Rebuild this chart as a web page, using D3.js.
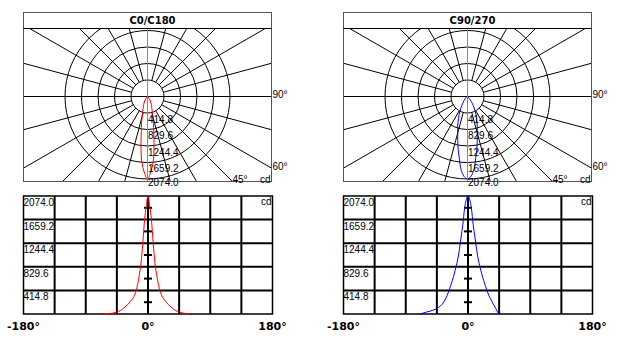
<!DOCTYPE html>
<html><head><meta charset="utf-8">
<script src="https://cdn.jsdelivr.net/npm/d3@7"></script>
<style>body{margin:0;background:#fff}svg{display:block}</style>
</head><body><svg id="c" width="639" height="341"></svg>
<script>
// ---- data ----
const titles = ["C0/C180", "C90/270"];
const seriesColors = ["#ff0000", "#0000ff"];
const redAngles  = [-65,-60,-55,-50,-45,-40,-35,-30,-25,-20,-17.5,-15,-12.5,-10,-7.5,-5,-2.5,0,2.5,5,7.5,10,12.5,15,17.5,20,25,30,35,40,45,50,55,60];
const redValues  = [0,3,8,18,35,60,105,160,225,320,400,520,690,900,1250,1650,1900,2074,1900,1650,1250,900,690,520,400,320,225,160,105,60,35,18,5,0];
const blueAngles = [-70,-65,-60,-55,-50,-45,-40,-35,-30,-25,-20,-17.5,-15,-12.5,-10,-7.5,-5,-2.5,0,2.5,5,7.5,10,12.5,15,17.5,20,25,30,35,40,42.5,45];
const blueValues = [2,15,35,50,70,95,140,210,330,500,700,820,950,1130,1350,1570,1850,2010,2074,2010,1850,1570,1350,1130,950,820,700,500,330,210,100,40,0];
const ringValues = [414.8, 829.6, 1244.4, 1659.2, 2074.0];
const ringLabels = ["414.8", "829.6", "1244.4", "1659.2", "2074.0"];
const xTicks = [-180, 0, 180];
const xTickLabels = ["-180°", "0°", "180°"];
const xGrid = [-135, -90, -45, 0, 45, 90, 135];
const maxCd = 2074.0;
const unitLabel = "cd";

const series = [
  {angles: redAngles, values: redValues},
  {angles: blueAngles, values: blueValues}
];

const svg = d3.select("#c");
const offsets = [0, 320];
const labelFont = "'Liberation Sans', Arial, sans-serif";
const boldFont = "'DejaVu Sans', Verdana, sans-serif";

offsets.forEach((off, i) => {
  const g = svg.append("g").attr("transform", `translate(${off},0)`);
  const pts = series[i].angles.map((a, k) => ({a, v: series[i].values[k]}));

  // ---------- polar panel ----------
  const bx0 = 23.5, bx1 = 271.5, by0 = 12.5, byT = 28.5, by1 = 181.5;
  const cx = 147.5, cy = 96.5;
  const rScale = d3.scaleLinear().domain([0, maxCd]).range([0, 82.5]);
  const aScale = d3.scaleLinear().domain([-180, 180]).range([2 * Math.PI, 0]);
  const clipId = "pclip" + i;
  g.append("clipPath").attr("id", clipId).append("rect")
    .attr("x", bx0).attr("y", byT).attr("width", bx1 - bx0).attr("height", by1 - byT);
  const pg = g.append("g").attr("clip-path", `url(#${clipId})`);
  const pc = pg.append("g").attr("transform", `translate(${cx},${cy})`);
  // rings
  pc.selectAll("circle.ring").data(ringValues).join("circle")
    .attr("r", d => rScale(d)).attr("fill", "none").attr("stroke", "#000").attr("stroke-width", 1);
  // radial lines every 15 deg
  const radials = d3.range(0, 360, 15).filter(d => d % 90 !== 0);
  pc.selectAll("line.rad").data(radials).join("line")
    .attr("x1", d => rScale(ringValues[0]) * Math.sin(aScale(d)))
    .attr("y1", d => -rScale(ringValues[0]) * Math.cos(aScale(d)))
    .attr("x2", d => 400 * Math.sin(aScale(d)))
    .attr("y2", d => -400 * Math.cos(aScale(d)))
    .attr("stroke", "#000").attr("stroke-width", 1);
  // horizontal 90 line
  pg.append("line").attr("x1", bx0).attr("x2", bx1).attr("y1", cy).attr("y2", cy)
    .attr("stroke", "#000").attr("stroke-width", 1);
  // vertical gray line
  pg.append("line").attr("x1", cx).attr("x2", cx).attr("y1", byT).attr("y2", by1)
    .attr("stroke", "#8a8a8a").attr("stroke-width", 1);
  // curve
  const radial = d3.lineRadial().angle(d => aScale(d.a)).radius(d => rScale(d.v)).curve(d3.curveCatmullRom);
  pc.append("path").datum(pts).attr("d", radial)
    .attr("fill", "none").attr("stroke", seriesColors[i]).attr("stroke-width", 1);
  // box
  g.append("rect").attr("x", bx0).attr("y", by0).attr("width", bx1 - bx0).attr("height", by1 - by0)
    .attr("fill", "none").attr("stroke", "#555").attr("stroke-width", 1);
  g.append("line").attr("x1", bx0).attr("x2", bx1).attr("y1", byT).attr("y2", byT)
    .attr("stroke", "#000").attr("stroke-width", 1);
  g.append("text").attr("x", cx + 5).attr("y", 24).attr("text-anchor", "middle")
    .attr("font-family", boldFont).attr("font-weight", "bold").attr("font-size", 10).text(titles[i]);
  // ring labels
  g.selectAll("text.rl").data(ringValues).join("text")
    .attr("x", cx + 0.5)
    .attr("y", d => Math.min(cy + rScale(d) + 9.5, 185.5))
    .attr("font-family", labelFont).attr("font-size", 10).text((d, k) => ringLabels[k]);
  // gamma labels
  g.append("text").attr("x", bx1 + 1).attr("y", 98).attr("font-family", labelFont).attr("font-size", 10).text("90°");
  g.append("text").attr("x", bx1 + 1).attr("y", 170).attr("font-family", labelFont).attr("font-size", 10).text("60°");
  g.append("text").attr("x", cx + (by1 - cy) * Math.tan(Math.PI / 4)).attr("y", 183)
    .attr("font-family", labelFont).attr("font-size", 10).text("45°");
  g.append("text").attr("x", bx1 - 1).attr("y", 183).attr("text-anchor", "end")
    .attr("font-family", labelFont).attr("font-size", 10).text(unitLabel);

  // ---------- cartesian panel ----------
  const lx0 = 23.5, lx1 = 272.5, ly0 = 196, ly1 = 314;
  const x = d3.scaleLinear().domain([-180, 180]).range([lx0, lx1]);
  const y = d3.scaleLinear().domain([0, maxCd]).range([ly1, ly0]);
  const cg = g.append("g");
  cg.selectAll("line.vg").data(xGrid).join("line")
    .attr("x1", d => x(d)).attr("x2", d => x(d)).attr("y1", ly0).attr("y2", ly1)
    .attr("stroke", "#000").attr("stroke-width", 2);
  cg.selectAll("line.hg").data(ringValues.slice(0, 4)).join("line")
    .attr("x1", lx0).attr("x2", lx1).attr("y1", d => y(d)).attr("y2", d => y(d))
    .attr("stroke", "#000").attr("stroke-width", 2);
  // center ticks at mid values
  cg.selectAll("line.tk").data(ringValues.map(d => d - 207.4)).join("line")
    .attr("x1", x(0) - 4).attr("x2", x(0) + 4).attr("y1", d => y(d)).attr("y2", d => y(d))
    .attr("stroke", "#000").attr("stroke-width", 2);
  cg.append("rect").attr("x", lx0).attr("y", ly0).attr("width", lx1 - lx0).attr("height", ly1 - ly0)
    .attr("fill", "none").attr("stroke", "#000").attr("stroke-width", 1.5);
  const line = d3.line().x(d => x(d.a)).y(d => y(d.v)).curve(d3.curveMonotoneX);
  cg.append("path").datum(pts).attr("d", line)
    .attr("fill", "none").attr("stroke", seriesColors[i]).attr("stroke-width", 1);
  cg.selectAll("text.yl").data(ringValues).join("text")
    .attr("x", lx0).attr("y", d => y(d) + 10)
    .attr("font-family", labelFont).attr("font-size", 10).text((d, k) => ringLabels[k]);
  cg.append("text").attr("x", lx1 - 1).attr("y", ly0 + 9).attr("text-anchor", "end")
    .attr("font-family", labelFont).attr("font-size", 10).text(unitLabel);
  cg.selectAll("text.xl").data(xTicks).join("text")
    .attr("x", d => x(d)).attr("y", 330).attr("text-anchor", "middle")
    .attr("font-family", boldFont).attr("font-weight", "bold").attr("font-size", 11)
    .text((d, k) => xTickLabels[k]);
});
</script></body></html>
